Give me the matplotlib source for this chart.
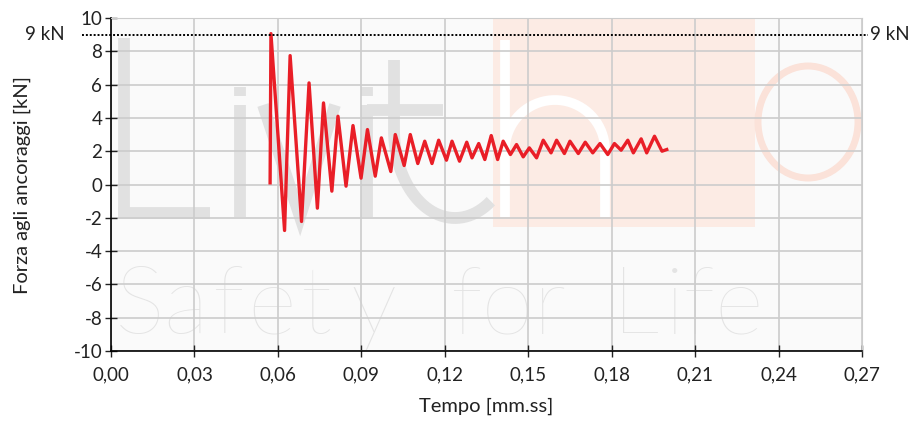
import numpy as np
import matplotlib
matplotlib.use("Agg")
import matplotlib.pyplot as plt
from matplotlib.patches import Rectangle, Ellipse
from matplotlib.ticker import FixedLocator, FuncFormatter

plt.rcParams['font.family'] = ['Lato', 'DejaVu Sans']

# force on the anchors vs time
time_s = [0.0572, 0.0575, 0.0624, 0.0644, 0.0685, 0.0712, 0.0742, 0.0764, 0.0794, 0.0816,
          0.0845, 0.0870, 0.0899, 0.0922, 0.0950, 0.0972, 0.1006, 0.1022, 0.1054, 0.1076,
          0.1103, 0.1128, 0.1154, 0.1178, 0.1206, 0.1226, 0.1253, 0.1279, 0.1298, 0.1322,
          0.1344, 0.1367, 0.1390, 0.1410, 0.1436, 0.1458, 0.1482, 0.1504, 0.1530, 0.1554,
          0.1582, 0.1602, 0.1630, 0.1650, 0.1680, 0.1705, 0.1732, 0.1758, 0.1786, 0.1810,
          0.1834, 0.1858, 0.1878, 0.1906, 0.1926, 0.1954, 0.1981, 0.1998]
force_kn = [0.1, 9.06, -2.76, 7.74, -2.22, 6.1, -1.42, 4.9, -0.4, 4.1,
            -0.1, 3.54, 0.38, 3.3, 0.5, 2.8, 0.78, 3.0, 1.14, 3.0,
            1.26, 2.6, 1.26, 2.66, 1.46, 2.6, 1.4, 2.54, 1.6, 2.46,
            1.5, 2.94, 1.5, 2.6, 1.8, 2.4, 1.66, 2.2, 1.6, 2.66,
            1.9, 2.66, 1.86, 2.6, 1.86, 2.54, 1.9, 2.46, 1.8, 2.46,
            2.06, 2.66, 1.9, 2.74, 1.9, 2.9, 2.0, 2.1]

limit_kn = 9
x_ticks = [0.00, 0.03, 0.06, 0.09, 0.12, 0.15, 0.18, 0.21, 0.24, 0.27]
y_ticks = [-10, -8, -6, -4, -2, 0, 2, 4, 6, 8, 10]

W, H = 910, 421
AX_L, AX_R, AX_T, AX_B = 111, 862, 18, 351

fig = plt.figure(figsize=(W / 100, H / 100), dpi=100)
ax = fig.add_axes([AX_L / W, 1 - AX_B / H, (AX_R - AX_L) / W, (AX_B - AX_T) / H])
ax.set_facecolor('#fafafa')


def pa(x, y):
    # pixel position -> axes fraction (watermark only)
    return (x - AX_L) / (AX_R - AX_L), (AX_B - y) / (AX_B - AX_T)


# --- watermark ---
gray = '#e1e1e1'
wm = dict(transform=ax.transAxes, color=gray, lw=8.5, solid_capstyle='butt', zorder=0.2, clip_on=False)
rx, ry = pa(493, 18)
rx2, ry2 = pa(755, 227)
ax.add_patch(Rectangle((rx, ry2), rx2 - rx, ry - ry2, transform=ax.transAxes,
                       facecolor='#fcebe4', edgecolor='none', zorder=0.1))
cx, cy = pa(808, 122)
ax.add_patch(Ellipse((cx, cy), 100 / (AX_R - AX_L), 112 / (AX_B - AX_T), transform=ax.transAxes,
                     facecolor='none', edgecolor='#fbe2d9', lw=5, zorder=0.2))


def stroke(xs, ys, **kw):
    pts = [pa(x, y) for x, y in zip(xs, ys)]
    opts = dict(wm)
    opts.update(kw)
    ax.plot([p[0] for p in pts], [p[1] for p in pts], **opts)


# L
stroke([124, 124], [38, 218])
stroke([118, 210], [213, 213])
# i
stroke([240, 240], [105, 217])
stroke([240, 240], [87, 96])
# v
stroke([263, 300, 335], [105, 217, 105], solid_joinstyle='miter')
# i
stroke([367, 367], [105, 217])
stroke([367, 367], [87, 96])
# t
stroke([367, 443], [110, 110])
th = np.linspace(np.pi, np.pi * 1.70, 40)
stroke(np.r_[394, 394, 455 + 61 * np.cos(th)], np.r_[60, 130, 130 - 88 * np.sin(th)])
# h (white on the pink square)
stroke([505, 505], [40, 217], color='white', lw=7)
th = np.linspace(np.pi, 0, 40)
stroke(np.r_[505, 555 + 50 * np.cos(th), 605], np.r_[150, 150 - 50 * np.sin(th), 217],
       color='white', lw=7)

for chunk, x in [('Sa', 115), ('f', 212), ('e', 247), ('t', 300), ('y', 350),
                 ('for', 450), ('L', 612), ('ife', 665)]:
    px, py = pa(x, 333)
    ax.text(px, py, chunk, transform=ax.transAxes, fontsize=68, fontweight='light',
            color='#e4e4e4', ha='left', va='baseline', zorder=0.2)

# --- data ---
ax.plot(time_s, force_kn, color='#e91e27', lw=2.4, zorder=3)
ax.axhline(limit_kn, xmin=-0.039, xmax=1.008, color='black', lw=1.4,
           linestyle=(0, (1, 1)), clip_on=False, zorder=4)
ax.text(-0.062, limit_kn, '9 kN', transform=ax.get_yaxis_transform(), ha='right', va='center',
        fontsize=13.5, color='#222222')
ax.text(1.011, limit_kn, '9 kN', transform=ax.get_yaxis_transform(), ha='left', va='center',
        fontsize=13.5, color='#222222')

ax.set_xlim(0, 0.27)
ax.set_ylim(-10, 10)
ax.xaxis.set_major_locator(FixedLocator(x_ticks))
ax.yaxis.set_major_locator(FixedLocator(y_ticks))
ax.xaxis.set_major_formatter(FuncFormatter(lambda v, p: f'{v:.2f}'.replace('.', ',')))
ax.yaxis.set_major_formatter(FuncFormatter(lambda v, p: f'{v:.0f}'))
ax.set_axisbelow(True)
ax.grid(True, color='#cccccc', lw=1.2)
ax.tick_params(direction='inout', length=8.5, width=1, labelsize=13.5, colors='#222222')
ax.tick_params(axis='x', pad=7)
ax.tick_params(axis='y', pad=2)
for s in ['top', 'right']:
    ax.spines[s].set_color('#cccccc')
for s in ['left', 'bottom']:
    ax.spines[s].set_color('black')
    ax.spines[s].set_linewidth(1.2)

ax.set_xlabel('Tempo [mm.ss]', fontsize=14.5, color='#222222')
ax.set_ylabel('Forza agli ancoraggi [kN]', fontsize=14.5, color='#222222')
ax.xaxis.set_label_coords(0.5, -0.141)
ax.yaxis.set_label_coords(-0.1065, 0.5)

fig.savefig('out.png', dpi=100, facecolor='white')
